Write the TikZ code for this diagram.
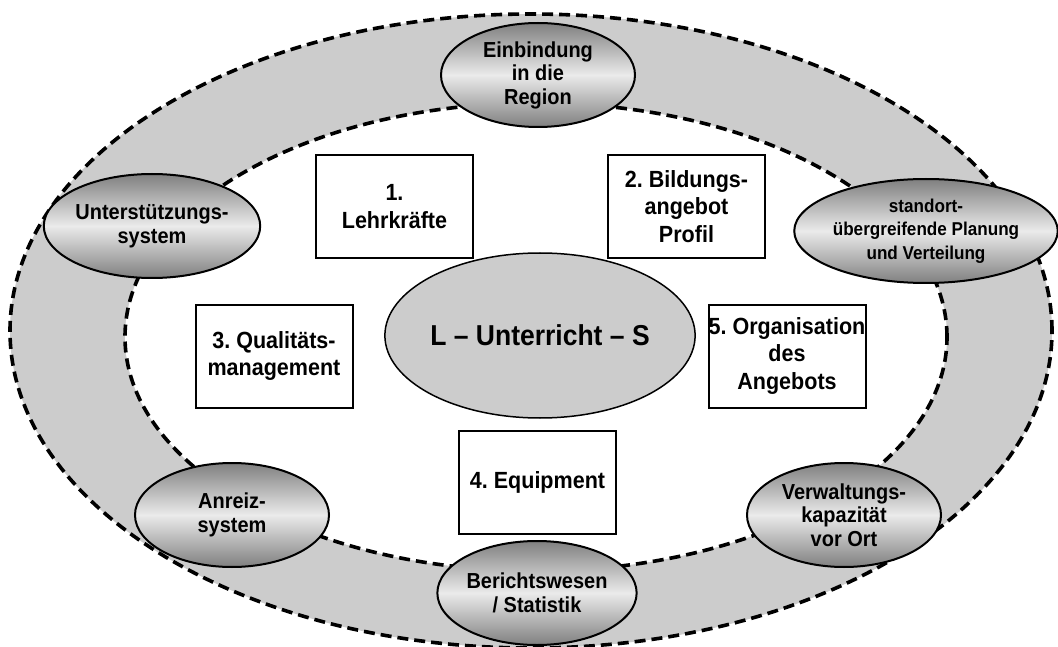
\documentclass[tikz,border=0pt]{standalone}
\usepackage{fontspec}
\setmainfont{Liberation Sans}[FakeStretch=0.92]
\frenchspacing
\usetikzlibrary{shapes.geometric}
\tikzset{
  ringline/.style={draw=black, line width=3.6pt, dash pattern=on 11pt off 6pt},
  satellite/.style={ellipse, draw=black, line width=2pt, minimum width=194pt, minimum height=104pt,
    inner sep=0pt, outer sep=0pt, align=center,
    top color=black!50, bottom color=black!50, middle color=black!8,
    font=\bfseries\fontsize{21.7}{23.5}\selectfont},
  fieldbox/.style={rectangle, draw=black, line width=2pt, fill=white, minimum width=157pt, minimum height=103pt,
    inner sep=0pt, outer sep=0pt, align=center,
    font=\bfseries\fontsize{23.4}{27.5}\selectfont},
  coreellipse/.style={ellipse, draw=black, line width=1.5pt, fill=black!20, minimum width=254pt, minimum height=165pt,
    inner sep=0pt, outer sep=0pt, align=center,
    font=\bfseries\fontsize{28.8}{32}\selectfont}
}
\begin{document}
\begin{tikzpicture}[x=1pt, y=-1pt]
\useasboundingbox (0,0) rectangle (1058,647);
% outer ring
\path[ringline, fill=black!20] (531,331) ellipse [x radius=521pt, y radius=317pt];
\path[ringline, fill=white] (536,337) ellipse [x radius=411pt, y radius=234pt];
% satellites
\node[satellite] (region) at (538,75) {Einbindung\\in die\\Region};
\node[satellite] (support) at (152,226) {Unterst\"utzungs-\\system};
\node[satellite, font=\bfseries\fontsize{18.6}{23.5}\selectfont] (planning) at (926,231) {standort-\\\"ubergreifende Planung\\und Verteilung};
\node[satellite] (incentive) at (232,515) {Anreiz-\\system};
\node[satellite] (report) at (537,593) {Berichtswesen\\/ Statistik};
\node[satellite] (admin) at (844,515) {Verwaltungs-\\kapazit\"at\\vor Ort};
% field boxes
\node[fieldbox] (teachers) at (394.5,206.5) {1.\\Lehrkr\"afte};
\node[fieldbox] (offer) at (686.5,206.5) {2. Bildungs-\\angebot\\Profil};
\node[fieldbox] (quality) at (274,356) {3. Qualit\"ats-\\management};
\node[fieldbox] (equip) at (537.5,482.5) {4. Equipment};
\node[fieldbox] (orga) at (787,356) {5. Organisation\\des\\Angebots};
% core
\node[coreellipse] (core) at (540,335.5) {L \textendash{} Unterricht \textendash{} S};
\end{tikzpicture}
\end{document}
